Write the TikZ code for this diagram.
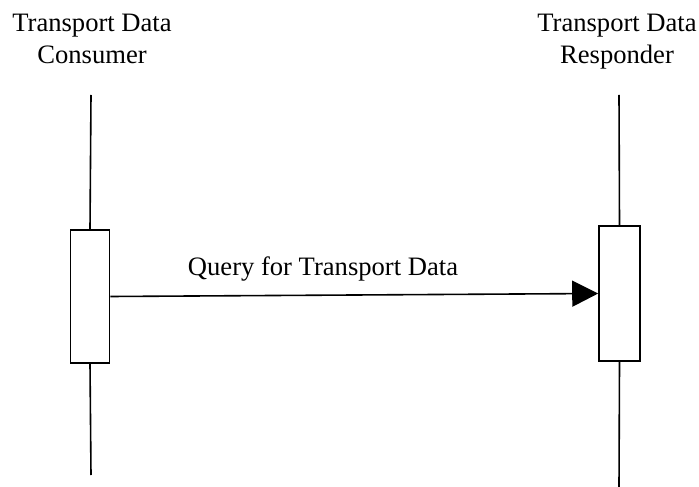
\documentclass[tikz,border=0pt]{standalone}
\usepackage{fontspec}
\setmainfont{Liberation Serif}
\usetikzlibrary{arrows.meta}
\tikzset{>={Triangle[length=26bp,width=26bp]}}
\tikzset{
	actor/.style={align=center, anchor=north, inner sep=0pt, font=\fontsize{26.6bp}{32bp}\selectfont},
	activation/.style={draw=black, fill=white, line width=1.6bp, minimum width=39bp, inner sep=0pt},
	lifeline/.style={line width=1.6bp}
}

\begin{document}
\begin{tikzpicture}[x=1bp, y=-1bp]
		% the page area
		\useasboundingbox (0, 0) rectangle (699, 487);

		% the actors
		\node[actor] (consumer) at (92, 14) {Transport Data\\Consumer};
		\node[actor] (responder) at (617, 14) {Transport Data\\Responder};

		% the lifeline ends
		\coordinate (consumerTop) at (91, 95);
		\coordinate (consumerEnd) at (91, 475);
		\coordinate (responderTop) at (619, 95);
		\coordinate (responderEnd) at (619, 487);

		% the activation boxes
		\node[activation, minimum height=133bp] (consumerBox) at (90, 296.5) {};
		\node[activation, minimum width=41bp, minimum height=135bp] (responderBox) at (619.5, 293.5) {};

		% the lifelines
		\draw[lifeline] (consumerTop) -- (consumerBox.north);
		\draw[lifeline] (consumerBox.south) -- (consumerEnd);
		\draw[lifeline] (responderTop) -- (responderBox.north);
		\draw[lifeline] (responderBox.south) -- (responderEnd);

		% the message
		\draw[lifeline, ->] (consumerBox.east) -- (responderBox.west);
		\node[anchor=base, inner sep=0pt, font=\fontsize{26.6bp}{32bp}\selectfont] (query) at (323, 276) {Query for Transport Data};
	\end{tikzpicture}
\end{document}
